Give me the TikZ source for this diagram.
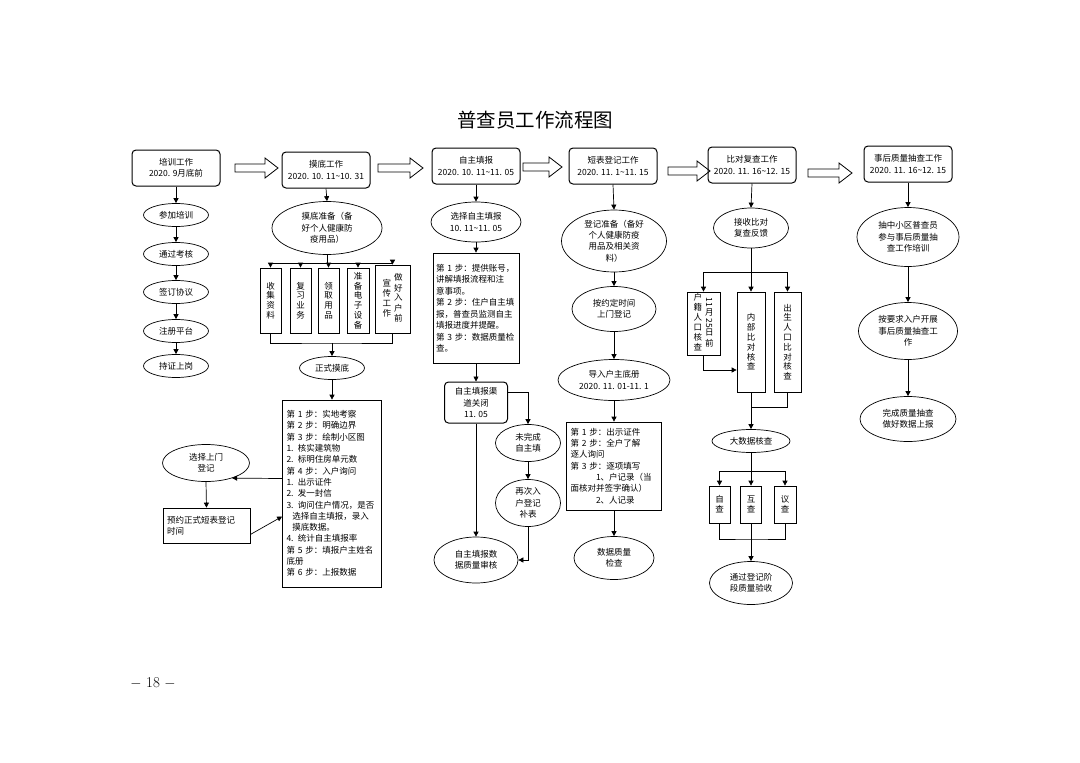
\documentclass[tikz,border=0pt]{standalone}
\usepackage{fontspec}
\usepackage{graphicx}
\newfontfamily\cjk{Noto Sans CJK SC}
\usetikzlibrary{shapes.geometric,arrows.meta}

\begin{document}
\begin{tikzpicture}[x=1pt,y=-1pt,
  font=\cjk\fontsize{8.5}{11.3}\selectfont,
  line width=0.7pt,
  hdr/.style={draw,rounded corners=4pt,line width=1pt,minimum width=88pt,minimum height=36pt,align=center,inner sep=0pt},
  ell/.style={draw,ellipse,inner sep=0pt,align=center},
  box/.style={draw,inner sep=0pt},
  txtbox/.style={draw,inner xsep=4pt,inner ysep=0pt,align=left},
  vbox/.style={draw,inner sep=0pt,align=center,font=\cjk\fontsize{8.5}{9.8}\selectfont},
  arr/.style={-{Triangle[length=5pt,width=5pt]}}]
  \useasboundingbox (0,0) rectangle (1080,763);

  \node[font=\cjk\fontsize{19.5}{22}\selectfont] (title) at (535,120) {普查员工作流程图};
  \node[font=\rmfamily\fontsize{15}{18}\selectfont] (page) at (153,683) {$-$\ 18\ $-$};

  \node[hdr] (h1) at (176,168) {培训工作\\2020. 9月底前};
  \node[hdr] (h2) at (326,170) {摸底工作\\2020. 10. 11\textasciitilde10. 31};
  \node[hdr] (h3) at (476,166) {自主填报\\2020. 10. 11\textasciitilde11. 05};
  \node[hdr] (h4) at (613,166) {短表登记工作\\2020. 11. 1\textasciitilde11. 15};
  \node[hdr] (h5) at (752,165) {比对复查工作\\2020. 11. 16\textasciitilde12. 15};
  \node[hdr] (h6) at (908,164) {事后质量抽查工作\\2020. 11. 16\textasciitilde12. 15};

  \foreach \xa/\xb/\yc in {235/278/168, 378/423/168, 523/562/167, 668/710/171, 808/852/173}
    \draw[line width=0.8pt] (\xa,\yc-4) -- (\xb-13,\yc-4) -- (\xb-13,\yc-10) -- (\xb,\yc)
      -- (\xb-13,\yc+10) -- (\xb-13,\yc+4) -- (\xa,\yc+4) -- cycle;

  \foreach \t/\y [count=\i] in {参加培训/215,通过考核/254,签订协议/292,注册平台/331,持证上岗/366}
    \node[ell,minimum width=65pt,minimum height=23pt] (a\i) at (176,\y) {\t};
  \draw[arr] (h1.south) -- (a1.north);
  \foreach \i [evaluate=\i as \j using int(\i+1)] in {1,...,4}
    \draw[arr] (a\i.south) -- (a\j.north);

  \node[ell,minimum width=110pt,minimum height=53pt] (b0) at (327,228) {摸底准备（备\\好个人健康防\\疫用品）};
  \coordinate (bj) at (327,263);
  \node[vbox,minimum width=21pt,minimum height=65pt] (b1) at (270.5,300.5) {收\\集\\资\\料};
  \node[vbox,minimum width=21pt,minimum height=65pt] (b2) at (300.5,300.5) {复\\习\\业\\务};
  \node[vbox,minimum width=21pt,minimum height=65pt] (b3) at (328.5,300.5) {领\\取\\用\\品};
  \node[vbox,minimum width=22pt,minimum height=65pt] (b4) at (358,300.5) {准\\备\\电\\子\\设\\备};
  \node[vbox,minimum width=35pt,minimum height=68pt] (b5) at (392.5,299)
    {\begin{tabular}[c]{@{}c@{}}宣\\传\\工\\作\end{tabular}\hspace{3pt}\begin{tabular}[c]{@{}c@{}}做\\好\\入\\户\\前\end{tabular}};
  \draw[arr] (h2.south) -- (b0.north);
  \draw (b0.south) -- (bj);
  \draw (b1.north |- bj) -- (b5.north |- bj);
  \foreach \i in {1,...,5}
    \draw[arr] (b\i.north |- bj) -- (b\i.north);
  \coordinate (bk) at (332,343);
  \draw (b1.south) |- (bk) -| (b5.south);
  \node[ell,minimum width=65pt,minimum height=23pt] (b6) at (332,368) {正式摸底};
  \draw[arr] (bk) -- (b6.north);
  \node[txtbox,text width=91pt,minimum height=187pt] (b7) at (332,493.5)
    {第~1~步：实地考察\\第~2~步：明确边界\\第~3~步：绘制小区图\\1. 核实建筑物\\2. 标明住房单元数\\第~4~步：入户询问\\1. 出示证件\\2. 发一封信\\3. 询问住户情况，是否\\\hspace*{0.7em}选择自主填报，录入\\\hspace*{0.7em}摸底数据。\\4. 统计自主填报率\\第~5~步：填报户主姓名\\底册\\第~6~步：上报数据};
  \draw[arr] (b6.south) -- (b7.north);

  \node[ell,minimum width=87pt,minimum height=37pt] (c1) at (206,463) {选择上门\\登记};
  \node[box,minimum width=87pt,minimum height=35pt,text width=79pt,align=left] (c2) at (206.5,525.5) {预约正式短表登记\\时间};
  \draw[arr] ([yshift=15pt]b7.west) -- (c1.-30);
  \draw[arr] (c1.south) -- (c2.north);
  \draw[arr] ([yshift=-9pt]c2.east) -- ([yshift=-23pt]b7.west);

  \node[ell,minimum width=90pt,minimum height=40pt] (d1) at (476,222) {选择自主填报\\10. 11\textasciitilde11. 05};
  \node[txtbox,text width=80pt,inner xsep=3pt,minimum height=110pt,font=\cjk\fontsize{8.5}{11.5}\selectfont] (d2) at (476,308)
    {第~1~步：提供账号，\\讲解填报流程和注\\意事项。\\第~2~步：住户自主填\\报，普查员监测自主\\填报进度并提醒。\\第~3~步：数据质量检\\查。};
  \node[hdr,minimum width=63pt,minimum height=41pt] (d3) at (476,402.5) {自主填报渠\\道关闭\\11. 05};
  \node[ell,minimum width=65pt,minimum height=37pt] (d4) at (528,443) {未完成\\自主填};
  \node[ell,minimum width=65pt,minimum height=47pt] (d5) at (528,503) {再次入\\户登记\\补表};
  \node[ell,minimum width=84pt,minimum height=46pt] (d6) at (476,560) {自主填报数\\据质量审核};
  \draw[arr] (h3.south) -- (d1.north);
  \draw[arr] (d1.south) -- (d2.north);
  \draw[arr] (d2.south) -- (d3.north);
  \draw[arr] ([yshift=10pt]d3.east) -| (d4.north);
  \draw[arr] (d4.south) -- (d5.north);
  \draw[arr] (d5.south) |- (d6.east);
  \draw[arr] (d3.south) -- (d6.north);

  \node[ell,minimum width=105pt,minimum height=62pt] (e1) at (614,241) {登记准备（备好\\个人健康防疫\\用品及相关资\\料）};
  \node[ell,minimum width=84pt,minimum height=45pt] (e2) at (614,309) {按约定时间\\上门登记};
  \node[ell,minimum width=112pt,minimum height=41pt] (e3) at (614,380) {导入户主底册\\2020. 11. 01-11. 1};
  \node[txtbox,text width=87pt,minimum height=88pt] (e4) at (614,466)
    {第~1~步：出示证件\\第~2~步：全户了解\\逐人询问\\第~3~步：逐项填写\\\hspace*{3em}1、户记录（当\\面核对并签字确认）\\\hspace*{3em}2、人记录};
  \node[ell,minimum width=80pt,minimum height=43pt] (e5) at (614,558) {数据质量\\检查};
  \draw[arr] (h4.south) -- (e1.north);
  \draw[arr] (e1.south) -- (e2.north);
  \draw[arr] (e2.south) -- (e3.north);
  \draw[arr] (e3.south) -- (e4.north);
  \draw[arr] (e4.south) -- (e5.north);

  \node[ell,minimum width=75pt,minimum height=40pt] (f0) at (751,228) {接收比对\\复查反馈};
  \coordinate (fj) at (751,272);
  \node[vbox,minimum width=33pt,minimum height=63pt] (f1) at (703.5,323.5)
    {\begin{tabular}[c]{@{}c@{}}户\\籍\\人\\口\\核\\查\end{tabular}\hspace{3pt}\begin{tabular}[c]{@{}c@{}}\rotatebox[origin=c]{-90}{11}\\月\\\rotatebox[origin=c]{-90}{25}\\日\\前\end{tabular}};
  \node[vbox,minimum width=28pt,minimum height=100pt] (f2) at (751,342) {内\\部\\比\\对\\核\\查};
  \node[vbox,minimum width=27pt,minimum height=100pt] (f3) at (787.5,342) {出\\生\\人\\口\\比\\对\\核\\查};
  \draw[arr] (h5.south) -- (f0.north);
  \draw (f0.south) -- (fj);
  \draw (f1.north |- fj) -- (f3.north |- fj);
  \foreach \i in {1,2,3}
    \draw[arr] (f\i.north |- fj) -- (f\i.north);
  \draw[arr] (f1.south) |- ([yshift=-28pt]f2.west);
  \coordinate (fk) at (751,407);
  \draw (f3.south) |- (fk);
  \node[ell,minimum width=78pt,minimum height=23pt] (f4) at (751,441) {大数据核查};
  \draw[arr] (f2.south) -- (f4.north);
  \coordinate (fl) at (751,471);
  \node[vbox,minimum width=21pt,minimum height=37pt] (g1) at (719.5,504.5) {自\\查};
  \node[vbox,minimum width=21pt,minimum height=37pt] (g2) at (751,504.5) {互\\查};
  \node[vbox,minimum width=22pt,minimum height=37pt] (g3) at (785,504.5) {议\\查};
  \draw (f4.south) -- (fl);
  \draw (g1.north |- fl) -- (g3.north |- fl);
  \foreach \i in {1,2,3}
    \draw[arr] (g\i.north |- fl) -- (g\i.north);
  \coordinate (fm) at (751,539);
  \draw (g1.south) |- (fm) -| (g3.south);
  \node[ell,minimum width=83pt,minimum height=43pt] (f5) at (751,583) {通过登记阶\\段质量验收};
  \draw[arr] (g2.south) -- (f5.north);

  \node[ell,minimum width=102pt,minimum height=59pt] (k1) at (908,237) {抽中小区普查员\\参与事后质量抽\\查工作培训};
  \node[ell,minimum width=99pt,minimum height=57pt] (k2) at (908,331) {按要求入户开展\\事后质量抽查工\\作};
  \node[ell,minimum width=96pt,minimum height=45pt] (k3) at (908,419) {完成质量抽查\\做好数据上报};
  \draw[arr] (h6.south) -- (k1.north);
  \draw[arr] (k1.south) -- (k2.north);
  \draw[arr] (k2.south) -- (k3.north);
\end{tikzpicture}
\end{document}
